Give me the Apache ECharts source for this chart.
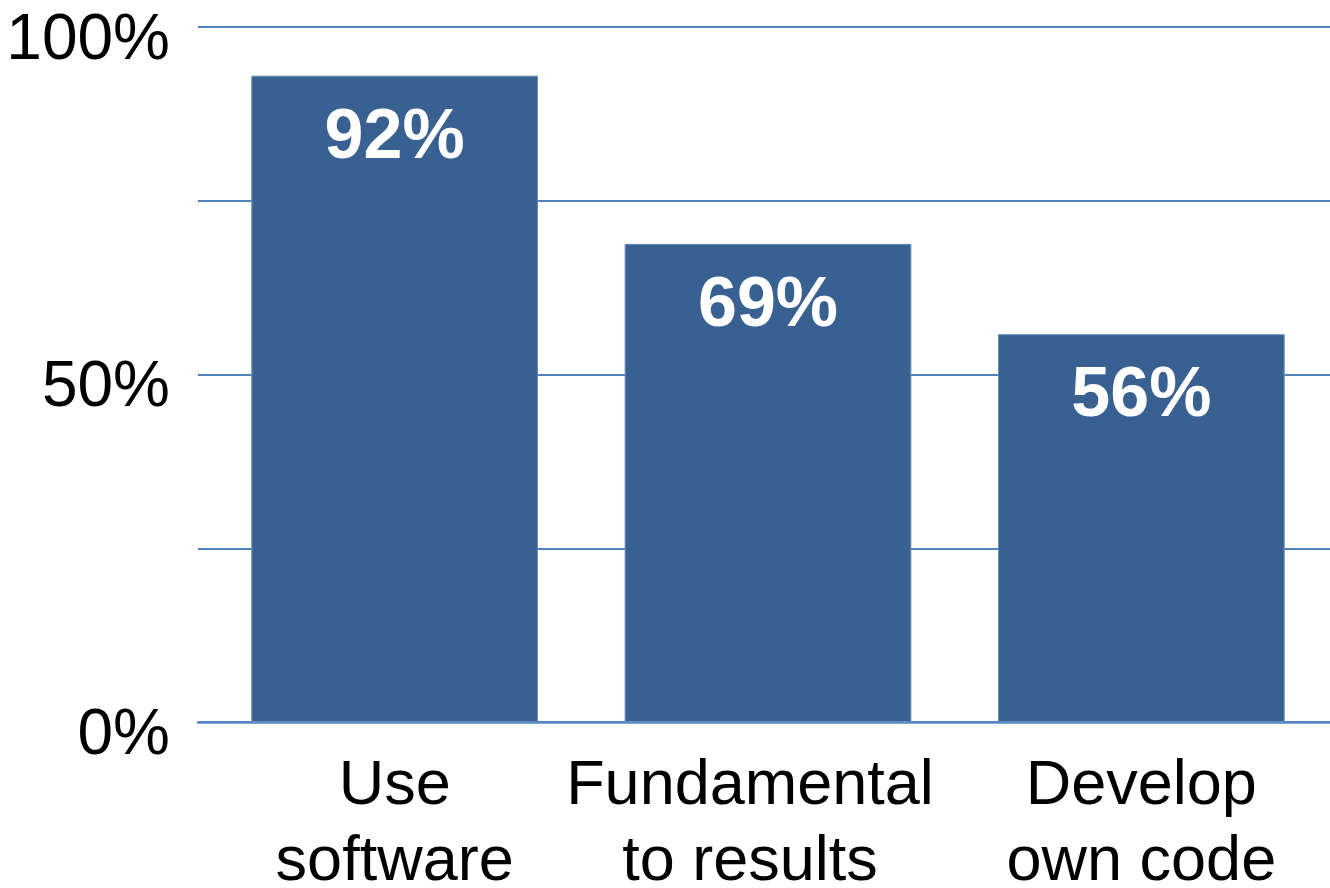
<!DOCTYPE html>
<html>
<head>
<meta charset="utf-8">
<script src="https://cdn.jsdelivr.net/npm/echarts@6/dist/echarts.min.js"></script>
<style>html,body{margin:0;padding:0;background:#fff;}#c{width:1330px;height:888px;}</style>
</head>
<body>
<div id="c"></div>
<script>
const categories = ['Use\nsoftware', 'Fundamental\nto results', 'Develop\nown code'];
const values = [93, 68.8, 55.8];
const valueLabels = ['92%', '69%', '56%'];
const yTicks = [0, 25, 50, 75, 100];

const FONT = 'Liberation Sans, Arial, sans-serif';
const categoryData = categories.map((c, i) => i === 1 ? { value: c, textStyle: { padding: [0, 36, 0, 0] } } : c);

const chart = echarts.init(document.getElementById('c'));
chart.setOption({
  animation: false,
  grid: [
    { left: 198, right: 0, top: 27, bottom: 166, outerBoundsMode: 'none' },
    { left: 208, right: 2, top: 27, bottom: 166, outerBoundsMode: 'none' }
  ],
  xAxis: [
    {
      gridIndex: 0, type: 'value', min: 0, max: 1,
      axisLine: { show: true, lineStyle: { color: '#5688c8', width: 2.5 } },
      axisTick: { show: false }, axisLabel: { show: false }, splitLine: { show: false }
    },
    {
      gridIndex: 1, type: 'category', data: categoryData,
      axisLine: { show: false }, axisTick: { show: false },
      axisLabel: {
        color: '#000', fontFamily: FONT,
        fontSize: 63, lineHeight: 76, margin: 27, interval: 0
      }
    }
  ],
  yAxis: [
    {
      gridIndex: 0, type: 'value', min: 0, max: 100, interval: 25,
      axisLine: { show: false }, axisTick: { show: false },
      splitLine: { show: true, lineStyle: { color: '#4f81bd', width: 1.8 } },
      axisLabel: {
        color: '#000', fontFamily: FONT, fontSize: 64, margin: 28,
        verticalAlign: 'top', lineHeight: 28,
        formatter: v => (yTicks.indexOf(v) >= 0 && v % 50 === 0) ? v + '%' : ''
      }
    },
    {
      gridIndex: 1, type: 'value', min: 0, max: 100, interval: 25,
      axisLine: { show: false }, axisTick: { show: false },
      splitLine: { show: false }, axisLabel: { show: false }
    }
  ],
  series: [{
    type: 'bar',
    xAxisIndex: 1, yAxisIndex: 1,
    data: values,
    barCategoryGap: '23.2%',
    itemStyle: { color: '#386192', borderColor: '#6a8cb8', borderWidth: 1 },
    label: {
      show: true, position: 'insideTop', distance: 28,
      color: '#fff', fontWeight: 'bold', fontSize: 70,
      fontFamily: FONT,
      formatter: p => valueLabels[p.dataIndex]
    }
  }]
});
</script>
</body>
</html>
